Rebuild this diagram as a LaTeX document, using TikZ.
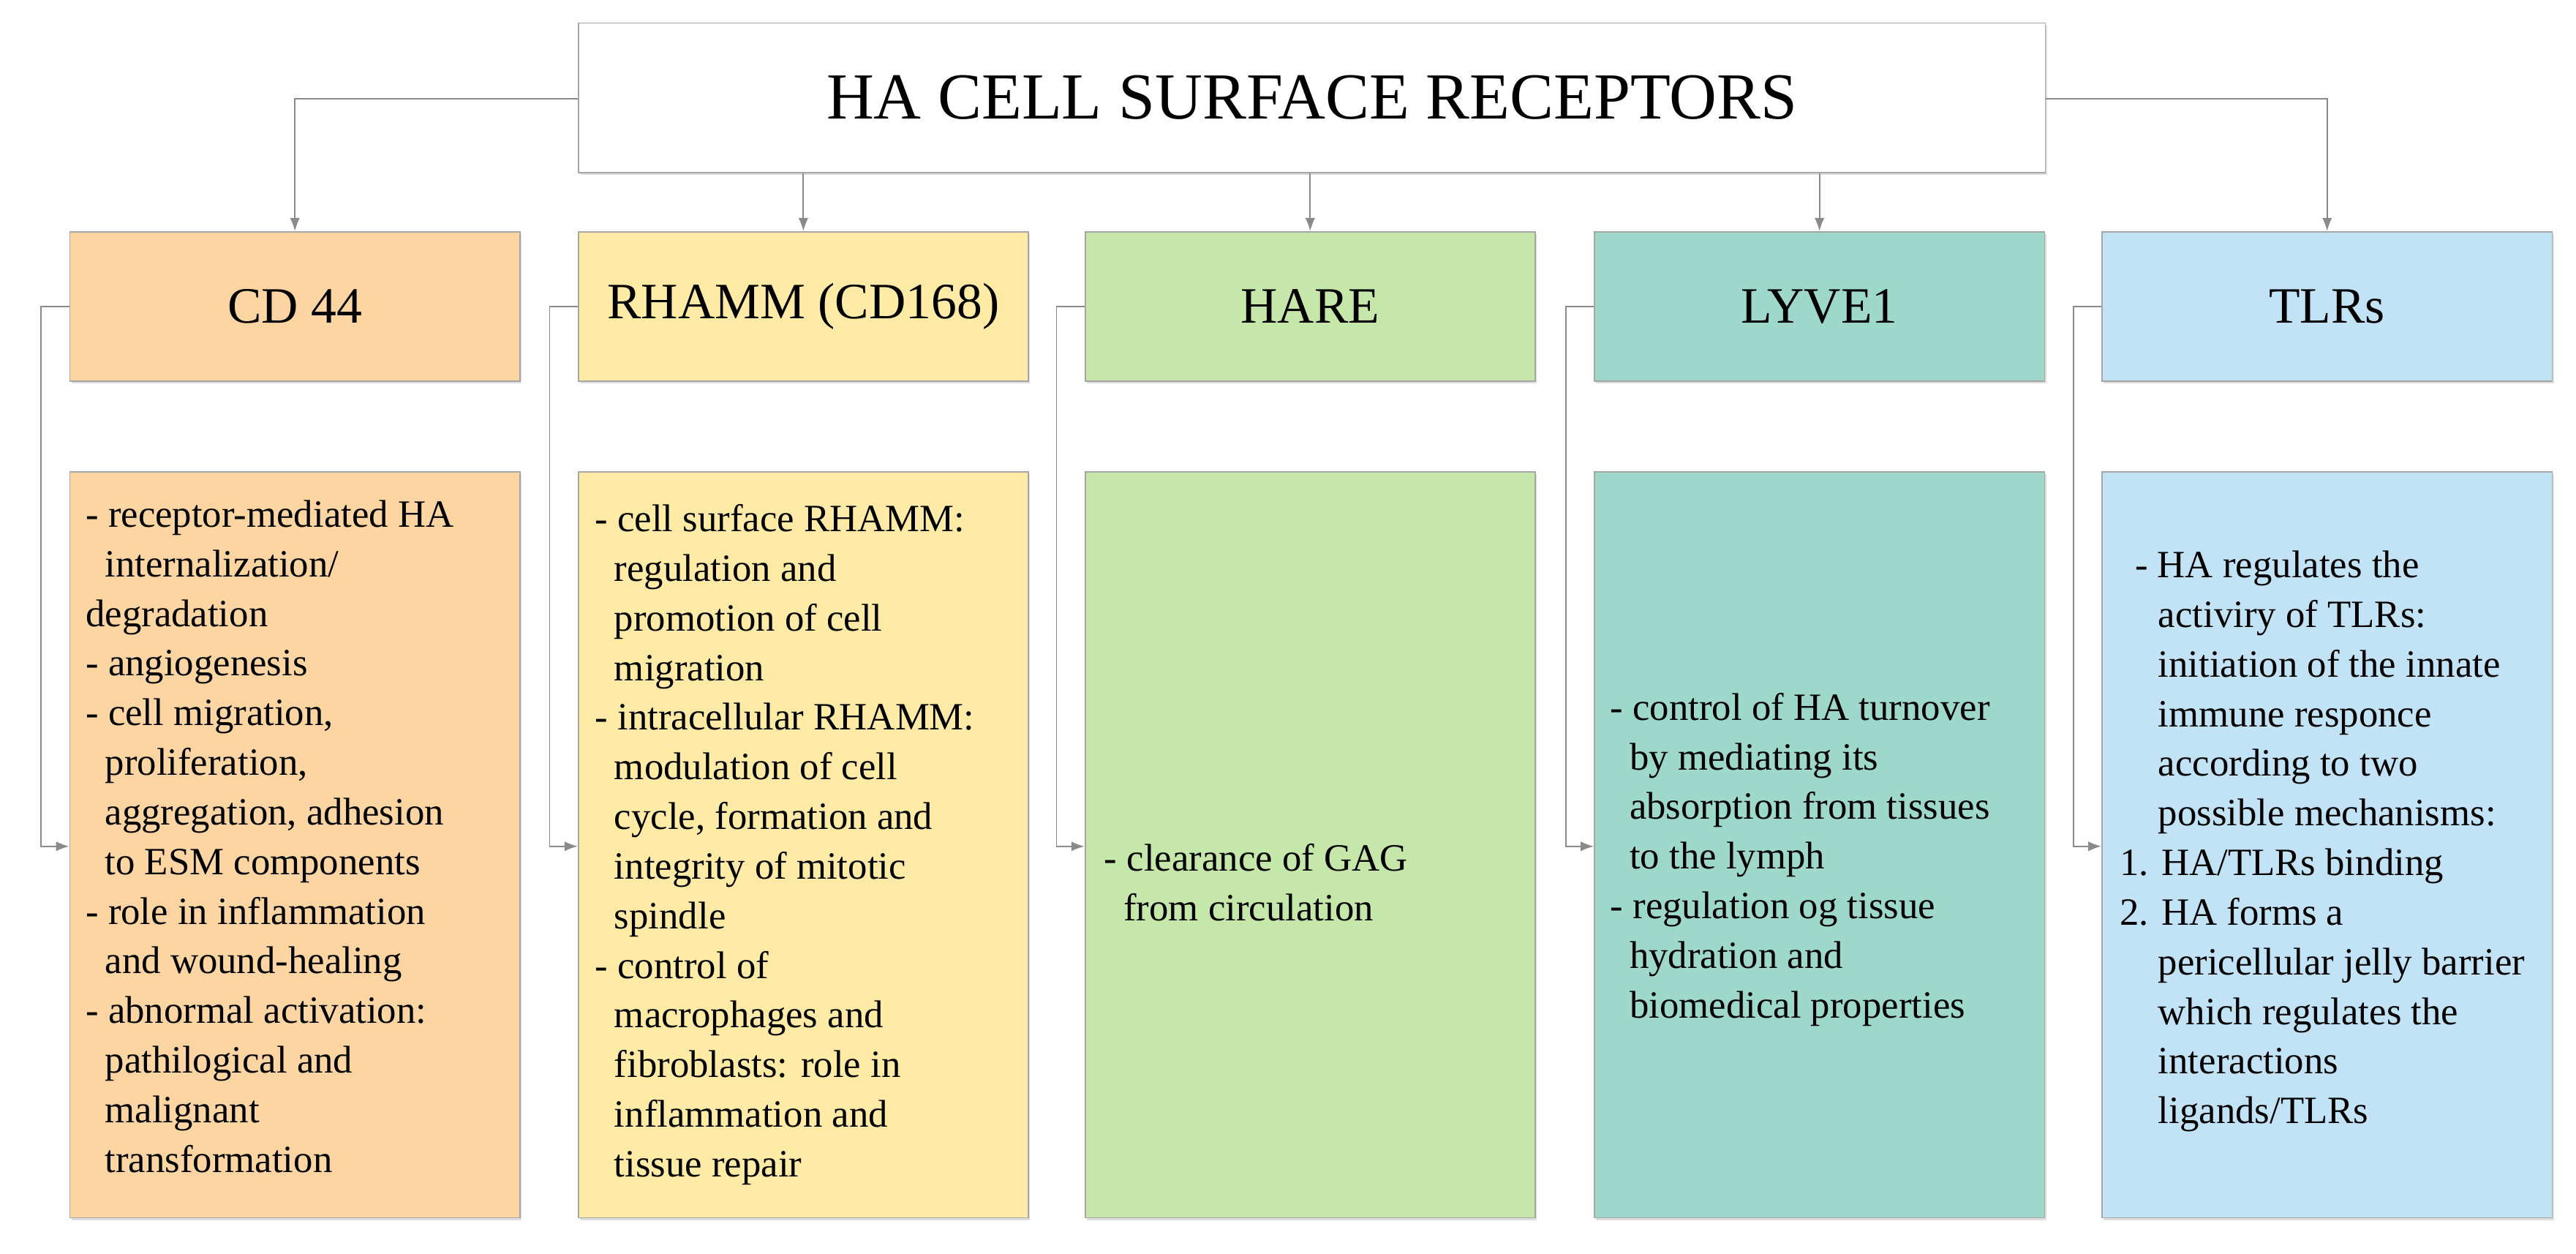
\documentclass[tikz,border=0pt]{standalone}
\usepackage{fontspec}
\setmainfont{Liberation Serif}
\usetikzlibrary{shadows,arrows.meta}
\definecolor{cOr}{HTML}{FDD5A2}
\definecolor{cYe}{HTML}{FFEBA6}
\definecolor{cGr}{HTML}{C6E7AA}
\definecolor{cTe}{HTML}{9DD8CB}
\definecolor{cBl}{HTML}{C2E3F6}
\definecolor{cLn}{HTML}{8A8A8A}
\begin{document}
\begin{tikzpicture}[x=1pt,y=-1pt,
  box/.style={draw=gray!70,line width=0.8pt,drop shadow={shadow xshift=1pt,shadow yshift=-1.5pt,opacity=0.25}},
  hd/.style={font=\fontsize{31}{34}\selectfont},
  bt/.style={font=\fontsize{23.5}{30.2}\selectfont,align=left,anchor=west,inner sep=0},
  ln/.style={draw=cLn,line width=0.8pt},
  ar/.style={ln,-{Latex[length=8pt,width=6pt]}}]
\useasboundingbox (0,0) rectangle (1568,763);
\node[box,fill=white,minimum width=893pt,minimum height=91pt,font=\fontsize{40}{44}\selectfont] (T) at (798.5,59.5) {HA CELL SURFACE RECEPTORS};
\foreach \n/\x/\c/\t in {A/179.5/cOr/CD 44,B/489/cYe/RHAMM (CD168),C/797.5/cGr/HARE,D/1107.5/cTe/LYVE1,E/1416.5/cBl/TLRs}{
  \node[box,fill=\c,minimum width=274pt,minimum height=91pt,hd] (\n) at (\x,186.5) {\t};
  \node[box,fill=\c,minimum width=274pt,minimum height=454pt] (\n b) at (\x,514) {};
}
\draw[ar] (T.west|-0,60) -| (A.north);
\draw[ar] (T.east|-0,60) -| (E.north);
\draw[ar] (T.south-|B) -- (B.north);
\draw[ar] (T.south-|C) -- (C.north);
\draw[ar] (T.south-|D) -- (D.north);
\foreach \n in {A,B,C,D,E}{
  \coordinate (\n1) at ([xshift=-17pt]\n.west);
  \draw[ar] (\n.west) -- (\n1) |- (\n b.west|-0,515);
}
\node[bt] (tA) at (52,509) {- receptor-mediated HA\\\hspace{0.5em}internalization/\\degradation\\- angiogenesis\\- cell migration,\\\hspace{0.5em}proliferation,\\\hspace{0.5em}aggregation, adhesion\\\hspace{0.5em}to ESM components\\- role in inflammation\\\hspace{0.5em}and wound-healing\\- abnormal activation:\\\hspace{0.5em}pathilogical and\\\hspace{0.5em}malignant\\\hspace{0.5em}transformation};
\node[bt] (tB) at (362,514) {- cell surface RHAMM:\\\hspace{0.5em}regulation and\\\hspace{0.5em}promotion of cell\\\hspace{0.5em}migration\\- intracellular RHAMM:\\\hspace{0.5em}modulation of cell\\\hspace{0.5em}cycle, formation and\\\hspace{0.5em}integrity of mitotic\\\hspace{0.5em}spindle\\- control of\\\hspace{0.5em}macrophages and\\\hspace{0.5em}fibroblasts: role in\\\hspace{0.5em}inflammation and\\\hspace{0.5em}tissue repair};
\node[bt] (tC) at (672,537) {- clearance of GAG\\\hspace{0.5em}from circulation};
\node[bt] (tD) at (980,523) {- control of HA turnover\\\hspace{0.5em}by mediating its\\\hspace{0.5em}absorption from tissues\\\hspace{0.5em}to the lymph\\- regulation og tissue\\\hspace{0.5em}hydration and\\\hspace{0.5em}biomedical properties};
\node[bt] (tE) at (1290,512) {\hspace{0.4em}- HA regulates the\\\hspace{1em}activiry of TLRs:\\\hspace{1em}initiation of the innate\\\hspace{1em}immune responce\\\hspace{1em}according to two\\\hspace{1em}possible mechanisms:\\1. HA/TLRs binding\\2. HA forms a\\\hspace{1em}pericellular jelly barrier\\\hspace{1em}which regulates the\\\hspace{1em}interactions\\\hspace{1em}ligands/TLRs};
\end{tikzpicture}
\end{document}
